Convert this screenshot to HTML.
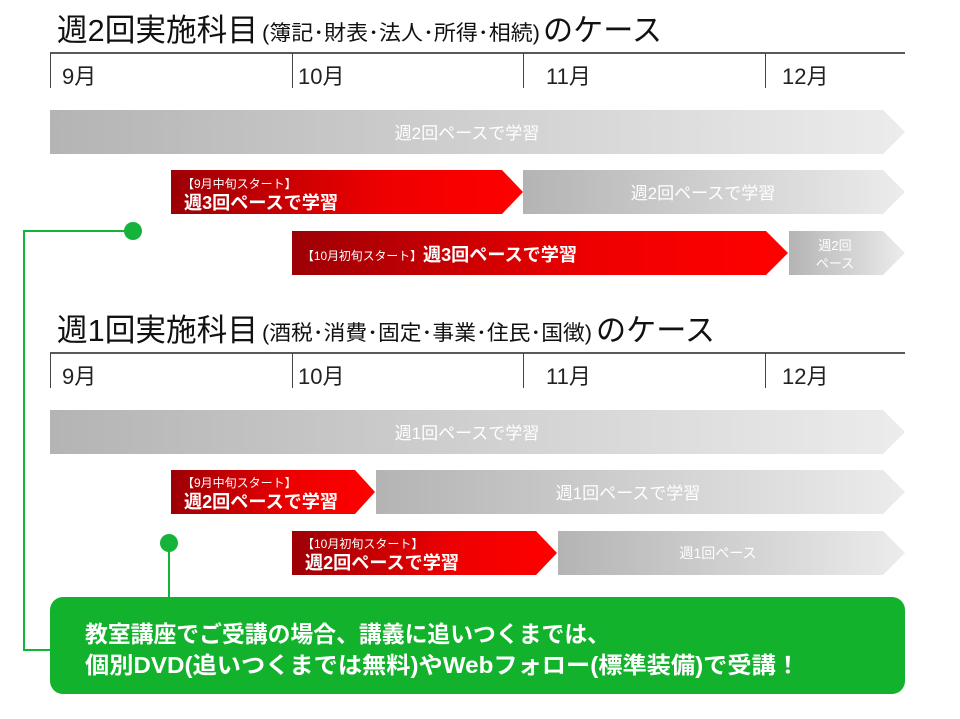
<!DOCTYPE html>
<html><head><meta charset="utf-8"><style>
html,body{margin:0;padding:0;background:#fff;}
svg{display:block;font-family:"Liberation Sans","Noto Sans CJK JP",sans-serif;}
</style></head><body>
<svg width="960" height="719" viewBox="0 0 960 719" xmlns="http://www.w3.org/2000/svg">
<defs>
<linearGradient id="g" x1="0" x2="1" y1="0" y2="0"><stop offset="0" stop-color="#b4b4b4"/><stop offset="1" stop-color="#ececec"/></linearGradient>
<linearGradient id="r" x1="0" x2="1" y1="0" y2="0"><stop offset="0" stop-color="#9c0006"/><stop offset="0.6" stop-color="#ee0000"/><stop offset="1" stop-color="#ff0000"/></linearGradient>
</defs>

<!-- Section 1 -->
<text x="57" y="41" font-size="31" fill="#111" textLength="201" lengthAdjust="spacingAndGlyphs">週2回実施科目</text>
<text x="262" y="40" font-size="21" fill="#111" textLength="278" lengthAdjust="spacingAndGlyphs">(簿記･財表･法人･所得･相続)</text>
<text x="543" y="41" font-size="31" fill="#111" textLength="119" lengthAdjust="spacingAndGlyphs">のケース</text>
<line x1="50" y1="53" x2="905" y2="53" stroke="#222" stroke-width="1.5"/>
<g stroke="#444" stroke-width="1"><line x1="50.5" y1="53" x2="50.5" y2="88"/><line x1="292.5" y1="53" x2="292.5" y2="88"/><line x1="523.5" y1="53" x2="523.5" y2="88"/><line x1="765.5" y1="53" x2="765.5" y2="88"/></g>
<g font-size="22" fill="#222"><text x="62" y="84">9月</text><text x="298" y="84">10月</text><text x="546" y="84">11月</text><text x="782" y="84">12月</text></g>

<polygon points="50,110 883,110 905,132 883,154 50,154" fill="url(#g)"/>
<text x="467" y="139" font-size="17" fill="#fff" text-anchor="middle">週2回ペースで学習</text>

<polygon points="171,170 502,170 523,192 502,214 171,214" fill="url(#r)"/>
<text x="182" y="188" font-size="12" fill="#fff">【9月中旬スタート】</text>
<text x="184" y="209" font-size="18" font-weight="bold" fill="#fff" textLength="154" lengthAdjust="spacingAndGlyphs">週3回ペースで学習</text>
<polygon points="523,170 883,170 905,192 883,214 523,214" fill="url(#g)"/>
<text x="703" y="199" font-size="17" fill="#fff" text-anchor="middle">週2回ペースで学習</text>

<polygon points="292,231 766,231 788,253 766,275 292,275" fill="url(#r)"/>
<text x="302" y="260" font-size="12" fill="#fff" textLength="120" lengthAdjust="spacingAndGlyphs">【10月初旬スタート】</text>
<text x="423" y="261" font-size="18" font-weight="bold" fill="#fff" textLength="154" lengthAdjust="spacingAndGlyphs">週3回ペースで学習</text>
<polygon points="789,231 883,231 905,253 883,275 789,275" fill="url(#g)"/>
<text x="835" y="250" font-size="13" fill="#fff" text-anchor="middle">週2回</text>
<text x="835" y="268" font-size="13" fill="#fff" text-anchor="middle">ペース</text>

<!-- Section 2 -->
<text x="57" y="341" font-size="31" fill="#111" textLength="201" lengthAdjust="spacingAndGlyphs">週1回実施科目</text>
<text x="262" y="340" font-size="21" fill="#111" textLength="330" lengthAdjust="spacingAndGlyphs">(酒税･消費･固定･事業･住民･国徴)</text>
<text x="596" y="341" font-size="31" fill="#111" textLength="119" lengthAdjust="spacingAndGlyphs">のケース</text>
<line x1="50" y1="353" x2="905" y2="353" stroke="#222" stroke-width="1.5"/>
<g stroke="#444" stroke-width="1"><line x1="50.5" y1="353" x2="50.5" y2="388"/><line x1="292.5" y1="353" x2="292.5" y2="388"/><line x1="523.5" y1="353" x2="523.5" y2="388"/><line x1="765.5" y1="353" x2="765.5" y2="388"/></g>
<g font-size="22" fill="#222"><text x="62" y="384">9月</text><text x="298" y="384">10月</text><text x="546" y="384">11月</text><text x="782" y="384">12月</text></g>

<polygon points="50,410 883,410 905,432 883,454 50,454" fill="url(#g)"/>
<text x="467" y="439" font-size="17" fill="#fff" text-anchor="middle">週1回ペースで学習</text>

<polygon points="171,470 355,470 375,492 355,514 171,514" fill="url(#r)"/>
<text x="182" y="487" font-size="12" fill="#fff">【9月中旬スタート】</text>
<text x="184" y="508" font-size="18" font-weight="bold" fill="#fff" textLength="154" lengthAdjust="spacingAndGlyphs">週2回ペースで学習</text>
<polygon points="376,470 883,470 905,492 883,514 376,514" fill="url(#g)"/>
<text x="628" y="499" font-size="17" fill="#fff" text-anchor="middle">週1回ペースで学習</text>

<polygon points="292,531 536,531 557,553 536,575 292,575" fill="url(#r)"/>
<text x="302" y="548" font-size="12" fill="#fff">【10月初旬スタート】</text>
<text x="305" y="569" font-size="18" font-weight="bold" fill="#fff" textLength="154" lengthAdjust="spacingAndGlyphs">週2回ペースで学習</text>
<polygon points="558,531 883,531 905,553 883,575 558,575" fill="url(#g)"/>
<text x="718" y="558" font-size="14" fill="#fff" text-anchor="middle">週1回ペース</text>

<!-- green connectors -->
<g stroke="#16b33a" stroke-width="2" fill="none">
<polyline points="133,231 24,231 24,650 52,650"/>
<line x1="169" y1="543" x2="169" y2="600"/>
</g>
<circle cx="133" cy="231" r="9" fill="#16b33a"/>
<circle cx="169" cy="543" r="9" fill="#16b33a"/>

<rect x="50" y="597" width="855" height="97" rx="13" fill="#13b22d"/>
<text x="85" y="642" font-size="23" font-weight="bold" fill="#fff" textLength="525" lengthAdjust="spacingAndGlyphs">教室講座でご受講の場合、講義に追いつくまでは、</text>
<text x="85" y="673" font-size="23" font-weight="bold" fill="#fff" textLength="715" lengthAdjust="spacingAndGlyphs">個別DVD(追いつくまでは無料)やWebフォロー(標準装備)で受講！</text>
</svg>
</body></html>
